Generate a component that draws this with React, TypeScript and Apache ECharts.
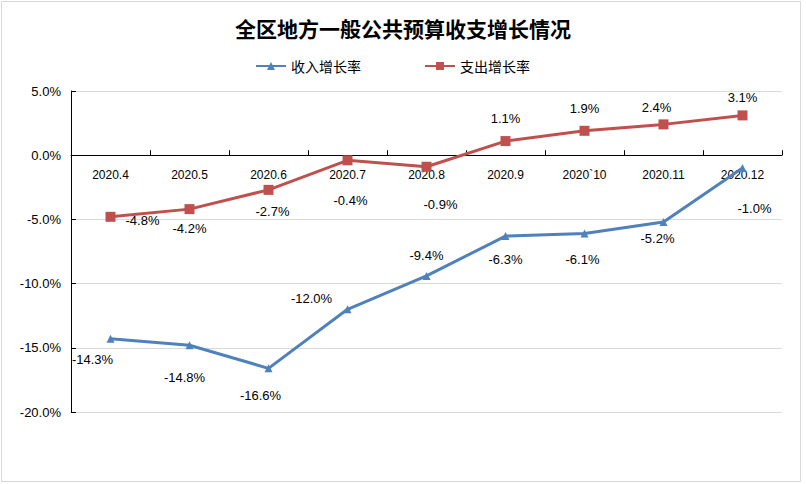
import React, { useEffect, useRef } from "react";
import * as echarts from "echarts";

const categories = ["2020.4", "2020.5", "2020.6", "2020.7", "2020.8", "2020.9", "2020`10", "2020.11", "2020.12"];
const incomeGrowth = [-14.3, -14.8, -16.6, -12.0, -9.4, -6.3, -6.1, -5.2, -1.0];
const expenseGrowth = [-4.8, -4.2, -2.7, -0.4, -0.9, 1.1, 1.9, 2.4, 3.1];
const yTicks = { min: -20, max: 5, interval: 5 };

const incomeLabelOffsets = [[-18, 21], [-5, 32], [-8, 27], [-36, -11], [0, -20], [0, 23], [-2, 26], [-6, 17], [12, 40]];
const expenseLabelOffsets = [[32, 4], [0, 19], [4, 22], [3, 40], [14, 38], [0, -23], [0, -22], [-7, -17], [0, -18]];

export default function App() {
  const ref = useRef<HTMLDivElement>(null);
  useEffect(() => {
    if (!ref.current) return;
    const chart = echarts.init(ref.current, null, { renderer: "svg" });
    const fmt = (p: any) => Number(p.value).toFixed(1) + "%";
    const labelFont = { fontFamily: "Liberation Sans", fontSize: 13, color: "#000" };
    const gridTop = 91;
    const gridBottom = 72;
    const gridHeight = 484 - gridTop - gridBottom;
    const zeroFromBottom = (gridHeight * (0 - yTicks.min)) / (yTicks.max - yTicks.min);
    chart.setOption({
      animation: false,
      backgroundColor: "#fff",
      title: {
        text: "全区地方一般公共预算收支增长情况",
        left: "center",
        top: 17,
        padding: 0,
        textStyle: { fontFamily: "Noto Sans CJK SC", fontSize: 21, fontWeight: "bold", color: "#000" },
      },
      legend: {
        left: 255,
        top: 59,
        padding: 0,
        itemGap: 63,
        itemWidth: 30,
        itemHeight: 10,
        textStyle: { fontFamily: "Noto Sans CJK SC", fontSize: 14, color: "#000" },
        data: ["收入增长率", "支出增长率"],
      },
      graphic: [
        {
          type: "rect",
          shape: { x: 1.5, y: 1.5, width: 799, height: 480 },
          style: { fill: "none", stroke: "#d9d9d9", lineWidth: 1 },
          silent: true,
        },
      ],
      grid: { left: 71, right: 24, top: gridTop, bottom: gridBottom, containLabel: false },
      xAxis: {
        type: "category",
        data: categories,
        boundaryGap: true,
        position: "bottom",
        offset: -zeroFromBottom,
        axisLine: { onZero: false, lineStyle: { color: "#000", width: 1 } },
        axisTick: { show: true, inside: true, length: 5, interval: 0, lineStyle: { color: "#000" } },
        axisLabel: { interval: 0, margin: 14, fontFamily: "Liberation Sans", fontSize: 12, color: "#000" },
        splitLine: { show: false },
      },
      yAxis: {
        type: "value",
        min: yTicks.min,
        max: yTicks.max,
        interval: yTicks.interval,
        axisLine: { show: true, lineStyle: { color: "#000", width: 1 } },
        axisTick: { show: true, inside: true, length: 5, lineStyle: { color: "#000" } },
        axisLabel: {
          margin: 10,
          fontFamily: "Liberation Sans",
          fontSize: 13,
          color: "#000",
          formatter: (v: number) => v.toFixed(1) + "%",
        },
        splitLine: { show: true, lineStyle: { color: "#d9d9d9", width: 1 } },
      },
      series: [
        {
          name: "收入增长率",
          type: "line",
          symbol: "triangle",
          symbolSize: 8,
          itemStyle: { color: "#4f81bd" },
          lineStyle: { color: "#4f81bd", width: 3 },
          label: { show: true, position: "inside", formatter: fmt, ...labelFont },
          data: incomeGrowth.map((v, i) => ({ value: v, label: { offset: incomeLabelOffsets[i] } })),
        },
        {
          name: "支出增长率",
          type: "line",
          symbol: "rect",
          symbolSize: 10,
          itemStyle: { color: "#c0504d" },
          lineStyle: { color: "#c0504d", width: 3 },
          label: { show: true, position: "inside", formatter: fmt, ...labelFont },
          data: expenseGrowth.map((v, i) => ({ value: v, label: { offset: expenseLabelOffsets[i] } })),
        },
      ],
    });
    return () => chart.dispose();
  }, []);
  return <div ref={ref} style={{ position: "fixed", left: 0, top: 0, width: 806, height: 484 }} />;
}
